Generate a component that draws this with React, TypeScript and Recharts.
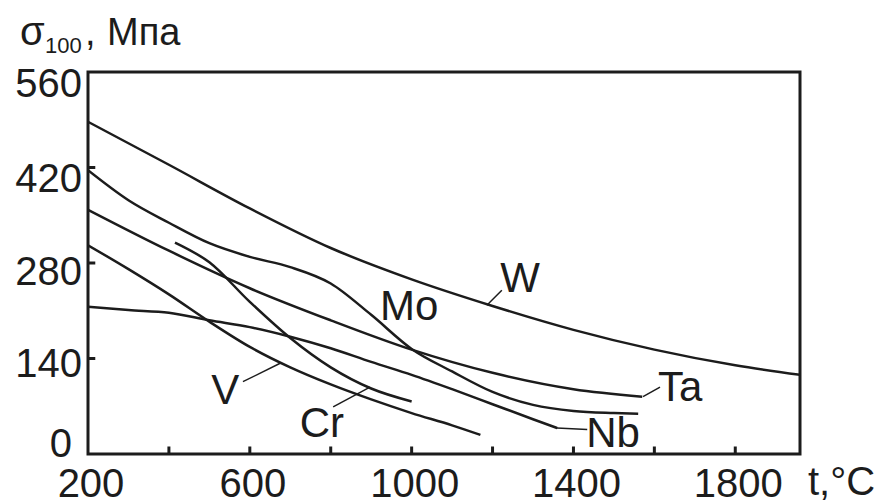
import { LineChart, Line, XAxis, YAxis, ReferenceArea, ReferenceLine, ReferenceDot } from 'recharts';

// 100-hour rupture strength vs temperature
const W_T = [200, 400, 600, 800, 1000, 1200, 1400, 1600, 1800, 1960];
const W_S = [487, 424, 360, 302, 256, 217, 182, 153, 130, 116];

const MO_T = [200, 300, 400, 500, 600, 700, 800, 900, 1000, 1100, 1200, 1300, 1400, 1500, 1560];
const MO_S = [416, 372, 339, 309, 289, 274, 250, 204, 154, 121, 91, 72, 63, 60, 59];

const TA_T = [200, 400, 600, 800, 1000, 1200, 1400, 1570];
const TA_S = [358, 298, 243, 196, 153, 119, 95, 84];

const NB_T = [200, 300, 400, 500, 600, 700, 800, 900, 1000, 1100, 1200, 1300, 1360];
const NB_S = [216, 211, 207, 196, 186, 172, 155, 135, 116, 95, 73, 51, 38];

const V_T = [200, 300, 400, 500, 600, 700, 800, 900, 1000, 1100, 1170];
const V_S = [306, 271, 234, 194, 157, 127, 102, 80, 60, 42, 28];

const CR_T = [415, 500, 600, 700, 800, 900, 1000];
const CR_S = [310, 281, 223, 170, 127, 96, 77];

const X_TICKS = [200, 400, 600, 800, 1000, 1200, 1400, 1600, 1800];
const X_INNER_TICKS = [400, 600, 800, 1000, 1200, 1400, 1600, 1800];
const X_LABELS = [200, 600, 1000, 1400, 1800];
const Y_TICKS = [0, 140, 280, 420, 560];
const Y_INNER_TICKS = [140, 280, 420];

const INK = '#1c1c1c';
const FONT = '"Liberation Sans", Arial, sans-serif';

const toPoints = (t: number[], s: number[]) => t.map((x, i) => ({ x, y: s[i] }));

const series = [
  { name: 'W', data: toPoints(W_T, W_S) },
  { name: 'Mo', data: toPoints(MO_T, MO_S) },
  { name: 'Ta', data: toPoints(TA_T, TA_S) },
  { name: 'Nb', data: toPoints(NB_T, NB_S) },
  { name: 'V', data: toPoints(V_T, V_S) },
  { name: 'Cr', data: toPoints(CR_T, CR_S) },
];

// curve labels: text centre and leader line, in data units
const labels = [
  { text: 'W', x: 1268, y: 260, lead: [[1186, 218], [1223, 240]] },
  { text: 'Mo', x: 994, y: 218, lead: null },
  { text: 'Ta', x: 1664, y: 100, lead: [[1572, 84], [1614, 98]] },
  { text: 'Nb', x: 1498, y: 32, lead: [[1359, 38], [1434, 36]] },
  { text: 'V', x: 539, y: 95, lead: [[583, 106], [675, 133]] },
  { text: 'Cr', x: 778, y: 47, lead: [[806, 69], [897, 98]] },
];

// inward tick marks, drawn as short segments in data units
const tickSegments = [
  ...X_INNER_TICKS.map((v) => [[v, 0], [v, 11]]),
  ...Y_INNER_TICKS.map((v) => [[200, v], [218, v]]),
];

const yLabelShift: Record<number, [number, number]> = {
  560: [0, 25],
  420: [0, 24],
  280: [0, 22],
  140: [0, 18],
  0: [-10, 3],
};

function XTick({ x, y, payload }: any) {
  const v = payload.value;
  if (!X_LABELS.includes(v)) return <g />;
  return (
    <text x={x + 3} y={y + 43} textAnchor="middle" fontSize={40} fontFamily={FONT} fill={INK}>
      {v}
    </text>
  );
}

function YTick({ x, y, payload }: any) {
  const v = payload.value;
  const [dx, dy] = yLabelShift[v] || [0, 20];
  return (
    <text x={x - 6 + dx} y={y + dy} textAnchor="end" fontSize={40} fontFamily={FONT} fill={INK}>
      {v}
    </text>
  );
}

const segs = [
  ...tickSegments.map((s, i) => ({ key: 'tick' + i, pts: s, w: 3 })),
  ...labels.filter((l) => l.lead).map((l) => ({ key: 'lead' + l.text, pts: l.lead as number[][], w: 1.5 })),
];

export default function App() {
  return (
    <div style={{ position: 'absolute', left: 0, top: 0, width: 885, height: 504, background: '#fff', fontFamily: FONT }}>
      <LineChart width={885} height={504} margin={{ top: 72, right: 85, bottom: 0, left: 8 }}>
        <XAxis
          dataKey="x"
          type="number"
          domain={[200, 1960]}
          ticks={X_TICKS}
          interval={0}
          height={50}
          axisLine={false}
          tickLine={false}
          tickSize={0}
          tickMargin={0}
          tick={<XTick />}
          allowDataOverflow
        />
        <YAxis
          type="number"
          domain={[0, 560]}
          ticks={Y_TICKS}
          interval={0}
          width={80}
          axisLine={false}
          tickLine={false}
          tickSize={0}
          tickMargin={0}
          tick={<YTick />}
          allowDataOverflow
        />
        <ReferenceArea x1={200} x2={1960} y1={0} y2={560} fill="none" stroke={INK} strokeWidth={3} ifOverflow="visible" />
        {segs.map((s) => (
          <ReferenceLine
            key={s.key}
            segment={[
              { x: s.pts[0][0], y: s.pts[0][1] },
              { x: s.pts[1][0], y: s.pts[1][1] },
            ]}
            stroke={INK}
            strokeWidth={s.w}
            ifOverflow="visible"
          />
        ))}
        {series.map((s) => (
          <Line
            key={s.name}
            data={s.data}
            dataKey="y"
            type="monotone"
            stroke={INK}
            strokeWidth={2.5}
            dot={false}
            activeDot={false}
            isAnimationActive={false}
          />
        ))}
        {labels.map((l) => (
          <ReferenceDot
            key={'lbl-' + l.text}
            x={l.x}
            y={l.y}
            r={0}
            fill="none"
            stroke="none"
            label={{ value: l.text, position: 'center', fontSize: 42, fill: INK, fontFamily: FONT }}
          />
        ))}
      </LineChart>
      <svg width={885} height={504} style={{ position: 'absolute', left: 0, top: 0, pointerEvents: 'none' }}>
        <g fontFamily={FONT} fill={INK}>
          <text x={20} y={45} fontSize={40}>σ</text>
          <text x={45} y={53} fontSize={22}>100</text>
          <text x={85} y={45} fontSize={38}>,</text>
          <text x={107} y={45} fontSize={38}>Мпа</text>
          <text x={808} y={495} fontSize={40}>t,°C</text>
        </g>
      </svg>
    </div>
  );
}
